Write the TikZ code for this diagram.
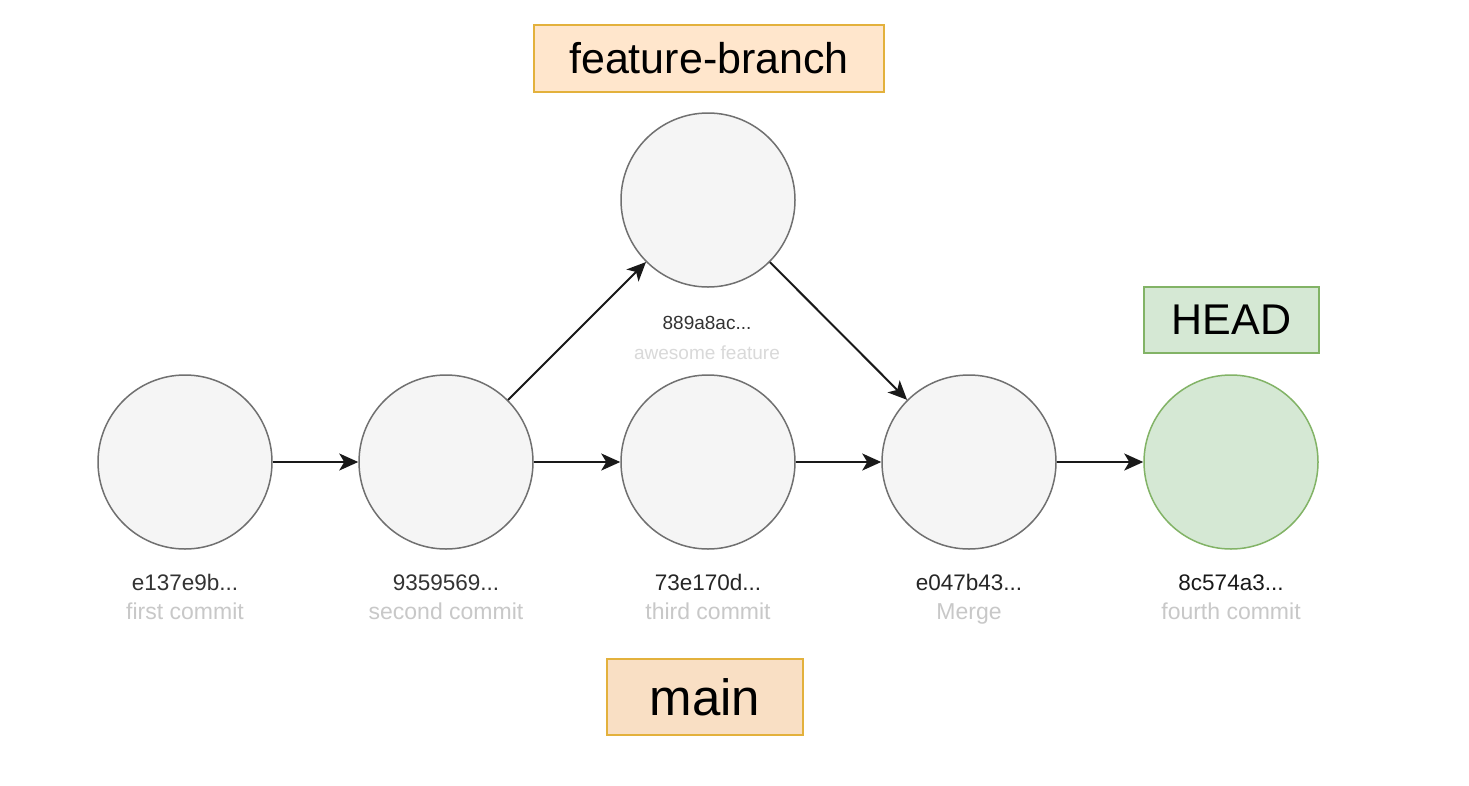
\documentclass[tikz,border=0pt]{standalone}
\usepackage{fontspec}
\setmainfont{Liberation Sans}
\usetikzlibrary{arrows.meta}
\definecolor{commitfill}{HTML}{F5F5F5}
\definecolor{commitline}{HTML}{707070}
\definecolor{headfill}{HTML}{D5E8D4}
\definecolor{headline}{HTML}{82B366}
\definecolor{featfill}{HTML}{FFE6CC}
\definecolor{mainfill}{HTML}{F9DFC4}
\definecolor{tagline}{HTML}{E3B13C}
\definecolor{hashcol}{HTML}{333333}
\definecolor{msgcol}{HTML}{C8C8C8}
\begin{document}
\begin{tikzpicture}[x=1pt,y=-1pt,
  commit/.style={circle,draw=commitline,fill=commitfill,line width=1.5pt,minimum size=174pt,inner sep=0pt},
  headcommit/.style={commit,draw=headline,fill=headfill},
  tagbox/.style={draw=tagline,line width=2pt,inner sep=0pt,anchor=north west},
  hash/.style={anchor=base,text=hashcol,font=\fontsize{22.5}{22.5}\selectfont},
  msg/.style={anchor=base,text=msgcol,font=\fontsize{23}{23}\selectfont},
  link/.style={line width=2pt,draw=black!90,-{Stealth[length=19pt,width=17pt,inset=5pt]}}]
\useasboundingbox (0,0) rectangle (1469,785);
\fill[white] (0,0) rectangle (1469,785);

% commits along main
\node[commit] (c1) at (185,462) {};
\node[commit] (c2) at (446,462) {};
\node[commit] (c3) at (708,462) {};
\node[commit] (c4) at (969,462) {};
\node[headcommit] (c5) at (1231,462) {};
% commit on the feature branch
\node[commit] (f1) at (708,200) {};

% hashes and messages
\node[hash] (h1) at (185,590) {e137e9b...};
\node[msg]  (m1) at (185,619) {first commit};
\node[hash] (h2) at (446,590) {9359569...};
\node[msg]  (m2) at (446,619) {second commit};
\node[hash,text=black!85] (h3) at (708,590) {73e170d...};
\node[msg]  (m3) at (708,619) {third commit};
\node[hash,text=black!85] (h4) at (969,590) {e047b43...};
\node[msg]  (m4) at (969,619) {Merge};
\node[hash,text=black!90] (h5) at (1231,590) {8c574a3...};
\node[msg]  (m5) at (1231,619) {fourth commit};
\node[hash,font=\fontsize{19}{19}\selectfont] (hf) at (707,329) {889a8ac...};
\node[msg,text=black!15,font=\fontsize{19}{19}\selectfont] (mf) at (707,359) {awesome feature};

% branch and HEAD labels
\node[tagbox,fill=featfill,minimum width=350pt,minimum height=67pt] (fb) at (533,24)
  {\fontsize{43}{43}\selectfont feature-branch};
\node[tagbox,fill=mainfill,minimum width=196pt,minimum height=76pt] (mb) at (606,658)
  {\fontsize{51}{51}\selectfont main};
\node[tagbox,draw=headline,fill=headfill,minimum width=175pt,minimum height=66pt] (hd) at (1143,286)
  {\fontsize{43}{43}\selectfont HEAD};

% history edges
\draw[link] (c1) -- (c2);
\draw[link] (c2) -- (c3);
\draw[link] (c3) -- (c4);
\draw[link] (c4) -- (c5);
\draw[link] (c2) -- (f1);
\draw[link] (f1) -- (c4);
\end{tikzpicture}
\end{document}
